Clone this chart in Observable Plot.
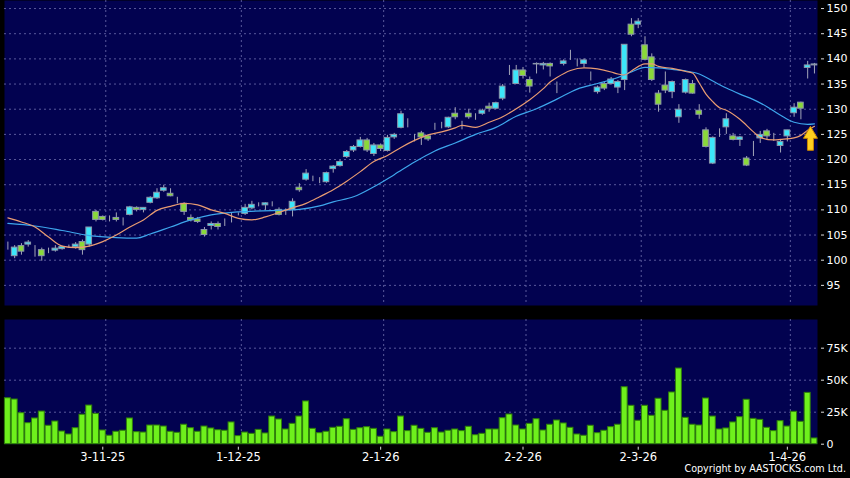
<!DOCTYPE html>
<html>
<head>
<meta charset="utf-8">
<script src="https://cdn.jsdelivr.net/npm/d3@7"></script>
<script src="https://cdn.jsdelivr.net/npm/@observablehq/plot@0.6"></script>
<style>
  html, body { margin: 0; padding: 0; background: #000; }
  #wrap { position: relative; width: 850px; height: 478px; background: #000; overflow: hidden; }
  #price { position: absolute; left: 0; top: 0; }
  #volume { position: absolute; left: 0; top: 310px; }
  #copy { position: absolute; right: 4px; top: 463px; color: #fff; font-family: "DejaVu Sans", sans-serif; font-size: 9.6px; white-space: nowrap; }
</style>
</head>
<body>
<div id="wrap">
  <div id="price"></div>
  <div id="volume"></div>
  <div id="copy">Copyright by AASTOCKS.com Ltd.</div>
</div>
<script>
// ---- data ----
const opens = [103.3,100.8,102.8,103.1,102.8,102.0,102.0,101.9,102.2,102.7,
  102.6,103.6,103.1,109.6,108.6,108.2,108.4,108.2,109.0,110.4,
  110.0,111.4,112.3,113.8,113.2,112.0,111.2,108.4,108.1,106.0,
  106.8,107.2,107.9,108.9,109.2,109.2,110.3,111.3,110.9,111.2,
  110.0,109.7,110.0,114.4,116.0,116.2,116.2,115.5,118.1,118.7,
  120.5,121.8,122.5,123.8,121.1,122.8,121.7,124.4,126.3,127.2,
  124.4,125.2,124.6,126.1,126.8,126.4,129.1,126.8,129.1,128.3,
  129.1,130.5,130.1,132.1,137.4,135.0,137.7,135.8,138.9,138.7,
  139.0,134.3,139.0,140.7,139.8,139.0,135.6,133.4,135.0,135.0,
  134.3,135.8,146.8,146.8,142.7,140.3,133.1,134.7,133.4,128.4,
  133.3,135.0,129.7,125.8,119.2,124.8,126.4,124.6,123.9,120.2,
  123.5,124.2,125.6,124.4,122.7,124.6,129.2,131.3,138.2,138.7];
const highs = [103.6,102.9,103.3,103.9,102.9,102.4,102.4,102.9,102.8,103.0,
  103.5,104.0,106.5,109.9,108.8,108.8,109.4,108.4,110.7,110.6,
  110.4,112.6,114.2,114.9,114.2,112.5,111.4,109.0,108.5,106.5,
  107.6,107.6,108.2,109.3,109.4,111.1,111.7,111.4,111.4,111.6,
  110.4,110.2,112.2,115.2,118.0,116.7,116.4,117.5,118.8,119.8,
  121.8,122.8,124.4,124.2,123.2,123.1,124.8,125.2,129.6,128.1,
  125.0,125.6,124.8,127.2,127.4,128.4,130.3,127.6,130.0,129.1,
  130.0,131.2,131.4,134.9,138.7,138.7,138.3,136.4,139.2,139.3,
  139.2,135.4,139.8,141.7,140.0,140.0,137.4,134.6,135.5,136.3,
  135.7,142.8,148.0,148.0,144.4,141.0,133.7,137.4,135.6,130.9,
  136.0,135.7,130.9,126.3,124.5,126.1,129.1,125.2,124.6,120.6,
  123.6,125.6,126.0,125.2,123.9,125.8,131.1,131.4,139.5,139.1];
const lows = [102.0,100.3,101.0,102.6,100.6,99.8,101.3,101.6,102.0,102.4,
  102.2,101.0,102.6,107.6,107.8,107.6,107.6,106.8,108.8,109.6,
  109.4,111.2,112.1,113.5,112.6,111.2,108.9,107.6,107.3,104.6,
  106.0,106.0,106.7,107.4,108.8,108.9,110.0,110.6,109.9,110.6,
  108.8,108.9,108.6,113.5,115.7,115.6,115.2,115.3,117.3,118.5,
  120.2,121.4,122.3,121.4,120.6,121.6,121.5,124.0,126.1,126.3,
  123.5,122.8,123.6,125.8,126.1,126.2,127.9,125.9,128.0,127.8,
  128.8,129.4,129.9,131.7,136.7,135.0,136.0,133.2,137.0,137.8,
  136.4,133.1,138.6,139.7,138.4,138.2,135.6,133.0,133.7,134.8,
  133.1,133.7,144.4,146.0,139.6,135.5,129.4,133.1,132.1,127.2,
  133.0,133.0,128.0,122.3,119.0,124.4,125.0,123.7,122.6,118.6,
  120.6,123.2,123.8,123.6,121.3,123.5,128.4,127.9,136.0,137.0];
const closes = [103.3,102.5,101.7,103.5,102.8,100.8,102.0,102.3,102.6,102.7,
  103.1,102.0,106.5,108.0,108.0,108.2,108.0,108.2,110.5,110.0,
  110.4,112.4,113.4,114.3,112.7,112.0,109.6,107.9,107.6,105.0,
  107.2,106.6,107.9,108.9,109.2,110.4,111.0,111.3,111.3,111.2,
  109.0,109.7,111.6,113.9,117.2,116.2,116.2,117.3,118.6,119.5,
  121.5,122.5,123.8,121.8,122.8,122.1,124.3,124.9,129.0,127.2,
  124.4,124.4,124.0,126.1,126.8,128.3,128.4,126.8,128.4,128.3,
  129.7,130.1,131.2,134.5,137.4,137.7,136.6,134.5,139.0,139.0,
  138.5,134.3,139.5,140.7,139.8,139.7,135.6,134.3,134.1,135.9,
  135.4,142.8,144.8,147.4,139.8,135.8,130.9,133.7,135.4,129.9,
  135.8,133.1,128.9,122.5,124.3,124.8,128.0,123.9,124.4,118.8,
  123.5,124.9,124.6,124.4,123.5,125.8,130.3,130.1,138.7,138.9];
const volumesK = [35.9,34.9,24.2,16.4,20.1,25.5,14.4,17.7,9.9,7.6,
  12.5,23.0,30.2,23.7,10.7,6.6,9.7,10.5,20.1,9.4,
  9.1,14.6,14.6,13.8,9.7,8.9,15.2,12.5,9.7,13.8,
  12.3,10.9,10.5,17.0,6.3,9.1,8.1,11.2,8.4,21.6,
  19.3,11.5,15.9,21.6,33.4,12.0,8.6,9.7,12.8,13.6,
  19.5,11.2,12.5,13.3,12.0,5.8,11.5,9.4,21.6,10.2,
  14.4,12.0,8.9,12.5,9.1,10.5,11.5,10.2,13.6,7.0,
  8.1,11.5,11.5,20.3,23.2,14.6,11.5,15.9,19.5,10.7,
  15.2,18.5,16.2,12.8,7.6,6.6,14.4,8.6,10.5,13.3,
  15.2,44.5,30.0,18.3,30.0,22.2,35.5,26.1,40.4,59.1,
  20.6,15.2,14.6,35.7,21.6,11.5,12.3,17.0,21.1,34.7,
  19.8,19.0,12.8,10.2,18.0,13.8,25.3,17.5,40.1,4.5];
// moving averages (bar index, value)
const maFastIdx = [0,2,4,6,8,10,12,14,16,18,20,22,24,26,28,30,32,34,36,38,40,42,44,46,48,50,52,54,56,58,60,62,64,66,67,69,71,73,75,77,79,80,81,83,85,87,89,90,91,92,94,95,96,98,100,101,102,103,104,105,106,108,110,111,113,114,116,117,118,119];
const maFastVal = [108.4,107.6,106.6,104.6,102.8,102.5,102.8,103.7,105.0,106.6,108.0,109.9,110.7,111.3,111.0,110.0,109.3,108.3,108.0,108.6,109.5,110.4,111.3,112.6,114.0,115.7,117.6,119.6,120.8,122.4,123.8,124.9,125.5,126.3,126.8,126.4,127.4,128.5,130.1,131.9,134.1,135.4,136.3,137.7,138.2,138.0,137.4,137.0,136.8,137.6,139.0,139.0,138.5,138.1,137.5,137.2,135.2,133.0,131.5,130.3,129.8,128.0,125.5,124.4,123.9,124.0,124.3,124.8,125.8,126.6];
const maSlowIdx = [0,4,8,12,16,19,21,24,27,30,34,40,43,46,48,51,54,57,60,63,66,69,72,75,78,81,84,87,90,92,94,96,98,100,102,104,106,108,110,112,114,116,118,119];
const maSlowVal = [107.3,106.8,105.9,104.9,104.5,104.4,105.2,106.6,108.0,109.0,109.6,109.9,110.1,110.8,111.6,112.6,114.6,117.0,119.5,121.7,123.3,125.0,126.4,128.6,130.1,132.0,134.0,135.1,136.3,137.4,138.3,138.2,137.9,137.6,137.0,135.6,134.2,133.0,131.9,130.5,128.8,127.4,127.0,127.1];
const dateTickIdx = [14, 34, 55, 76, 93, 115];
const dateTickLabels = ["3-11-25", "1-12-25", "2-1-26", "2-2-26", "2-3-26", "1-4-26"];
const priceTicks = [95,100,105,110,115,120,125,130,135,140,145,150];
const volumeTicks = [0,25,50,75];

// ---- tables built from the arrays ----
const candles = opens.map((o, i) => ({i, open: o, high: highs[i], low: lows[i], close: closes[i], vol: volumesK[i]}));
const maFast = maFastIdx.map((i, k) => ({i, v: maFastVal[k]}));
const maSlow = maSlowIdx.map((i, k) => ({i, v: maSlowVal[k]}));
const tickLabel = new Map(dateTickIdx.map((d, k) => [d, dateTickLabels[k]]));
const lastIdx = candles.length - 1;

// ---- style ----
const NAVY = "#020250";
const GRID = "#5a5a9c";
const CYAN = "#3ce6fa";
const GREEN = "#8ad83a";
const OUTLINE = "#8c96aa";
const WICK = "#a4a6b8";
const FONT = "DejaVu Sans, sans-serif";
const xDomain = [-0.5, 119.45];

const arrowSymbol = {
  draw(ctx) {
    ctx.moveTo(0, 0);
    ctx.lineTo(7, 12);
    ctx.lineTo(3, 12);
    ctx.lineTo(3, 24);
    ctx.lineTo(-3, 24);
    ctx.lineTo(-3, 12);
    ctx.lineTo(-7, 12);
    ctx.closePath();
  }
};

const price = Plot.plot({
  width: 850, height: 310,
  marginLeft: 4, marginRight: 33, marginTop: 0, marginBottom: 5,
  style: {background: "transparent", color: "#fff", fontFamily: FONT, fontSize: "11px"},
  x: {domain: xDomain, axis: null},
  y: {domain: [91.0, 151.6]},
  marks: [
    Plot.frame({fill: NAVY, stroke: null}),
    Plot.gridY(priceTicks, {stroke: GRID, strokeOpacity: 1, strokeDasharray: "2,3"}),
    Plot.gridX(dateTickIdx, {stroke: GRID, strokeOpacity: 1, strokeDasharray: "2,3", dx: 3}),
    Plot.ruleX(candles, {x: "i", y1: "low", y2: "high", stroke: WICK, strokeWidth: 1}),
    Plot.rect(candles, {
      x1: d => d.i - 0.42, x2: d => d.i + 0.42,
      y1: "open", y2: "close",
      fill: d => d.close > d.open ? CYAN : GREEN,
      stroke: OUTLINE, strokeWidth: 1
    }),
    Plot.line(maSlow, {x: "i", y: "v", stroke: "#3ea6ec", strokeWidth: 1.2, curve: "monotone-x"}),
    Plot.line(maFast, {x: "i", y: "v", stroke: "#e99c72", strokeWidth: 1.2, curve: "monotone-x"}),
    Plot.dot([{i: lastIdx, v: maFastVal[maFastVal.length - 1]}], {
      x: "i", y: "v", symbol: arrowSymbol, r: 6, dx: -4,
      fill: "#ffcf1f", stroke: "#c98500", strokeWidth: 1
    }),
    Plot.axisY(priceTicks, {anchor: "right", tickSize: 3, dx: 3, tickPadding: 3, label: null,
      fill: "#fff", stroke: "#ddd", fontSize: 11})
  ]
});
document.getElementById("price").appendChild(price);

const volume = Plot.plot({
  width: 850, height: 168,
  marginLeft: 4, marginRight: 33, marginTop: 9, marginBottom: 34.3,
  style: {background: "transparent", color: "#fff", fontFamily: FONT, fontSize: "11px"},
  x: {domain: xDomain},
  y: {domain: [0, 97.4]},
  marks: [
    Plot.frame({fill: NAVY, stroke: null}),
    Plot.gridY(volumeTicks.filter(d => d > 0), {stroke: GRID, strokeOpacity: 1, strokeDasharray: "2,3"}),
    Plot.gridX(dateTickIdx, {stroke: GRID, strokeOpacity: 1, strokeDasharray: "2,3", dx: 3}),
    Plot.rect(candles, {
      x1: d => d.i - 0.44, x2: d => d.i + 0.44,
      y1: 0, y2: "vol",
      fill: "#6ef01c", stroke: "#2f7f0a", strokeWidth: 1
    }),
    Plot.axisY(volumeTicks, {anchor: "right", tickSize: 3, dx: 3, tickPadding: 3, label: null,
      tickFormat: d => d === 0 ? "0" : d + "K", fill: "#fff", stroke: "#ddd", fontSize: 11}),
    Plot.axisX(dateTickIdx, {anchor: "bottom", tickSize: 3, dy: 3, tickPadding: 3, label: null,
      tickFormat: d => tickLabel.get(d), fill: "#fff", stroke: "#ddd", fontSize: 11.5})
  ]
});
document.getElementById("volume").appendChild(volume);
</script>
</body>
</html>
